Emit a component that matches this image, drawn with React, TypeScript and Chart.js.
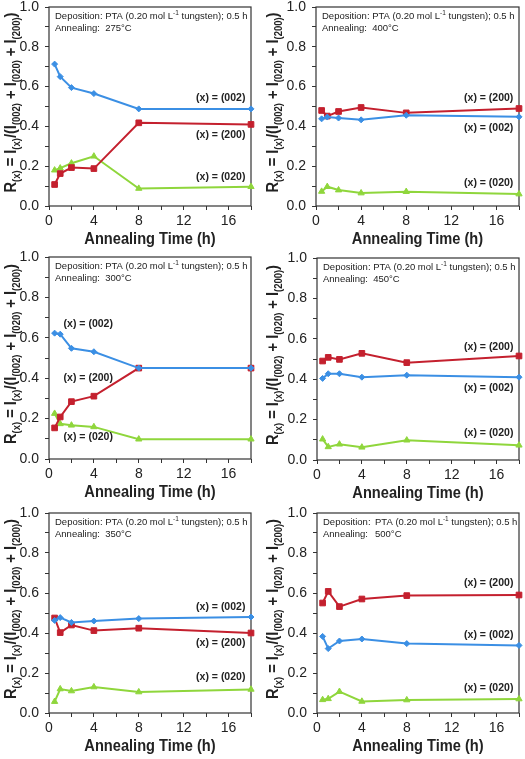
import React, { useEffect, useRef } from 'react';
import { Chart, registerables } from 'chart.js';

Chart.register(...registerables);

const FONT = '"Liberation Sans", Arial, Helvetica, sans-serif';

// ---- data ----
const times = [0.5, 1, 2, 4, 8, 18];
const temperatures = ['275°C', '400°C', '300°C', '450°C', '350°C', '500°C'];
const seriesNames = ['(x) = (002)', '(x) = (200)', '(x) = (020)'];
const xTickStep = 2;
const xLabelEvery = 4;
const yTickStep = 0.1;

const r002_275 = [0.713, 0.65, 0.595, 0.565, 0.488, 0.488];
const r200_275 = [0.108, 0.163, 0.193, 0.188, 0.418, 0.41];
const r020_275 = [0.18, 0.19, 0.215, 0.25, 0.088, 0.097];

const r002_400 = [0.438, 0.447, 0.442, 0.433, 0.456, 0.448];
const r200_400 = [0.48, 0.452, 0.475, 0.495, 0.468, 0.49];
const r020_400 = [0.073, 0.097, 0.08, 0.065, 0.072, 0.06];

const r002_300 = [0.623, 0.618, 0.548, 0.531, 0.45, 0.45];
const r200_300 = [0.154, 0.208, 0.284, 0.311, 0.45, 0.45];
const r020_300 = [0.225, 0.174, 0.167, 0.159, 0.098, 0.098];

const r002_450 = [0.404, 0.427, 0.427, 0.41, 0.42, 0.41];
const r200_450 = [0.49, 0.508, 0.498, 0.528, 0.482, 0.515];
const r020_450 = [0.103, 0.065, 0.078, 0.063, 0.098, 0.073];

const r002_350 = [0.463, 0.477, 0.453, 0.46, 0.472, 0.48];
const r200_350 = [0.475, 0.402, 0.44, 0.412, 0.424, 0.4];
const r020_350 = [0.057, 0.12, 0.11, 0.13, 0.105, 0.118];

const r002_500 = [0.383, 0.322, 0.36, 0.37, 0.347, 0.338];
const r200_500 = [0.55, 0.608, 0.532, 0.57, 0.587, 0.59];
const r020_500 = [0.066, 0.071, 0.107, 0.058, 0.065, 0.07];

// series label anchor (data coords): x, then y for 002, 200, 020
const labelX = [17.5, 17.5, 1.3, 17.5, 17.5, 17.5];
const labelAlign: CanvasTextAlign[] = ['right', 'right', 'left', 'right', 'right', 'right'];
const labelY_275 = [0.544, 0.357, 0.147];
const labelY_400 = [0.393, 0.543, 0.117];
const labelY_300 = [0.668, 0.402, 0.106];
const labelY_450 = [0.358, 0.561, 0.132];
const labelY_350 = [0.528, 0.348, 0.177];
const labelY_500 = [0.39, 0.648, 0.125];

const COLORS = ['#3b8fe4', '#c4202e', '#8fd63c'];
const POINT_STYLES = ['rectRot', 'rect', 'triangle'];
const POINT_RADII = [3, 4, 3.6];

type PanelCfg = {
  left: number; top: number; w: number; h: number;
  plotLeft: number; plotRight: number; plotTop: number; plotBottom: number;
  series: number[][];
  labelY: number[];
  labelX: number;
  align: CanvasTextAlign;
  temp: string;
  tabbed: boolean;
};

const panels: PanelCfg[] = [
  { left: 0, top: 0, w: 262, h: 250, plotLeft: 49, plotRight: 251, plotTop: 7, plotBottom: 206,
    series: [r002_275, r200_275, r020_275], labelY: labelY_275, labelX: labelX[0], align: labelAlign[0], temp: temperatures[0], tabbed: false },
  { left: 262, top: 0, w: 263, h: 250, plotLeft: 54, plotRight: 257, plotTop: 7, plotBottom: 206,
    series: [r002_400, r200_400, r020_400], labelY: labelY_400, labelX: labelX[1], align: labelAlign[1], temp: temperatures[1], tabbed: false },
  { left: 0, top: 250, w: 262, h: 256, plotLeft: 49, plotRight: 251, plotTop: 7, plotBottom: 209,
    series: [r002_300, r200_300, r020_300], labelY: labelY_300, labelX: labelX[2], align: labelAlign[2], temp: temperatures[2], tabbed: false },
  { left: 262, top: 250, w: 263, h: 256, plotLeft: 55, plotRight: 257, plotTop: 8, plotBottom: 210,
    series: [r002_450, r200_450, r020_450], labelY: labelY_450, labelX: labelX[3], align: labelAlign[3], temp: temperatures[3], tabbed: false },
  { left: 0, top: 506, w: 262, h: 253, plotLeft: 49, plotRight: 251, plotTop: 7, plotBottom: 207,
    series: [r002_350, r200_350, r020_350], labelY: labelY_350, labelX: labelX[4], align: labelAlign[4], temp: temperatures[4], tabbed: false },
  { left: 262, top: 506, w: 263, h: 253, plotLeft: 55, plotRight: 257, plotTop: 7, plotBottom: 207,
    series: [r002_500, r200_500, r020_500], labelY: labelY_500, labelX: labelX[5], align: labelAlign[5], temp: temperatures[5], tabbed: true },
];

const Y_TITLE: [string, boolean][] = [
  ['R', false], ['(x)', true], [' = ', false], ['I', false], ['(x)', true], ['/(', false],
  ['I', false], ['(002)', true], [' + ', false], ['I', false], ['(020)', true], [' + ', false],
  ['I', false], ['(200)', true], [')', false],
];

function makeDecor(cfg: PanelCfg) {
  return {
    id: 'decor',
    beforeDatasetsDraw(chart: any) {
      const { ctx, chartArea: a } = chart;
      ctx.save();
      ctx.strokeStyle = '#333';
      ctx.lineWidth = 1.2;
      ctx.strokeRect(a.left, a.top, a.right - a.left, a.bottom - a.top);
      ctx.restore();
    },
    afterDraw(chart: any) {
      const { ctx, chartArea: a } = chart;
      const xs = chart.scales.x;
      const ys = chart.scales.y;
      const squeeze = 0.86;
      ctx.save();
      ctx.fillStyle = '#222';
      ctx.textBaseline = 'alphabetic';

      // X title
      ctx.save();
      ctx.font = `bold 17px ${FONT}`;
      ctx.translate((a.left + a.right) / 2, a.bottom + 38);
      ctx.scale(squeeze, 1);
      ctx.textAlign = 'center';
      ctx.fillText('Annealing Time (h)', 0, 0);
      ctx.restore();

      // Y title with subscripts
      ctx.save();
      const mainFont = `bold 17px ${FONT}`;
      const subFont = `bold 11px ${FONT}`;
      let total = 0;
      const widths = Y_TITLE.map(([t, sub]) => {
        ctx.font = sub ? subFont : mainFont;
        const w = ctx.measureText(t).width;
        total += w;
        return w;
      });
      ctx.translate(16, (a.top + a.bottom) / 2 - 4);
      ctx.rotate(-Math.PI / 2);
      ctx.scale(squeeze, 1);
      ctx.textAlign = 'left';
      let px = -total / 2;
      Y_TITLE.forEach(([t, sub], i) => {
        ctx.font = sub ? subFont : mainFont;
        ctx.fillText(t, px, sub ? 4 : 0);
        px += widths[i];
      });
      ctx.restore();

      // annotation box text
      ctx.save();
      const f = `9.5px ${FONT}`;
      const fs = `6.5px ${FONT}`;
      ctx.textAlign = 'left';
      const x0 = a.left + 6;
      const y1 = a.top + 11.5;
      const y2 = y1 + 12;
      ctx.font = f;
      let x: number;
      if (cfg.tabbed) {
        ctx.fillText('Deposition:', x0, y1);
        x = x0 + 52;
      } else {
        ctx.fillText('Deposition: ', x0, y1);
        x = x0 + ctx.measureText('Deposition: ').width;
      }
      ctx.fillText('PTA (0.20 mol L', x, y1);
      x += ctx.measureText('PTA (0.20 mol L').width;
      ctx.font = fs;
      ctx.fillText('-1', x, y1 - 3.5);
      x += ctx.measureText('-1').width;
      ctx.font = f;
      ctx.fillText(' tungsten); 0.5 h', x, y1);
      if (cfg.tabbed) {
        ctx.fillText('Annealing:', x0, y2);
        ctx.fillText(cfg.temp, x0 + 52, y2);
      } else {
        ctx.fillText('Annealing:  ' + cfg.temp, x0, y2);
      }
      ctx.restore();

      // series labels
      ctx.save();
      ctx.font = `bold 10.5px ${FONT}`;
      ctx.textAlign = cfg.align;
      ctx.textBaseline = 'middle';
      cfg.labelY.forEach((v, i) => {
        ctx.fillText(seriesNames[i], xs.getPixelForValue(cfg.labelX), ys.getPixelForValue(v));
      });
      ctx.restore();

      ctx.restore();
    },
  };
}

function Panel({ cfg }: { cfg: PanelCfg }) {
  const ref = useRef<HTMLCanvasElement>(null);
  useEffect(() => {
    const canvas = ref.current!;
    const chart = new Chart(canvas, {
      type: 'line',
      data: {
        datasets: cfg.series.map((vals, i) => ({
          label: seriesNames[i],
          data: times.map((t, k) => ({ x: t, y: vals[k] })),
          borderColor: COLORS[i],
          backgroundColor: COLORS[i],
          pointBackgroundColor: COLORS[i],
          pointBorderColor: COLORS[i],
          borderWidth: 2,
          pointStyle: POINT_STYLES[i] as any,
          pointRadius: POINT_RADII[i],
          pointBorderWidth: 1,
          tension: 0,
          clip: false as any,
        })),
      },
      options: {
        responsive: false,
        animation: false,
        layout: { padding: { top: cfg.plotTop, right: cfg.w - cfg.plotRight, left: 0, bottom: 0 } },
        plugins: { legend: { display: false }, tooltip: { enabled: false } },
        scales: {
          x: {
            type: 'linear',
            min: 0,
            max: 18,
            border: { display: false },
            grid: { drawOnChartArea: false, drawTicks: true, tickLength: 4, color: '#333' },
            ticks: {
              stepSize: xTickStep,
              autoSkip: false,
              maxRotation: 0,
              padding: 3,
              color: '#222',
              font: { size: 14, family: FONT },
              callback: (v: any) => (Number(v) % xLabelEvery === 0 ? String(v) : ''),
            },
            afterFit: (s: any) => {
              s.height = cfg.h - cfg.plotBottom;
              s.paddingLeft = 0;
              s.paddingRight = 0;
            },
          },
          y: {
            type: 'linear',
            min: 0,
            max: 1,
            border: { display: false },
            grid: { drawOnChartArea: false, drawTicks: true, tickLength: 4, color: '#333' },
            ticks: {
              stepSize: yTickStep,
              autoSkip: false,
              padding: 6,
              color: '#222',
              font: { size: 14, family: FONT },
              callback: (v: any) => (Math.round(Number(v) * 10) % 2 === 0 ? Number(v).toFixed(1) : ''),
            },
            afterFit: (s: any) => {
              s.width = cfg.plotLeft;
              s.paddingTop = 0;
              s.paddingBottom = 0;
            },
          },
        },
      },
      plugins: [makeDecor(cfg)],
    });
    return () => chart.destroy();
  }, []);
  return (
    <canvas
      ref={ref}
      width={cfg.w}
      height={cfg.h}
      style={{ position: 'absolute', left: cfg.left, top: cfg.top, width: cfg.w, height: cfg.h }}
    />
  );
}

export default function App() {
  return (
    <div style={{ position: 'absolute', left: 0, top: 0, width: 525, height: 759, background: '#fff' }}>
      {panels.map((p, i) => (
        <Panel key={i} cfg={p} />
      ))}
    </div>
  );
}
